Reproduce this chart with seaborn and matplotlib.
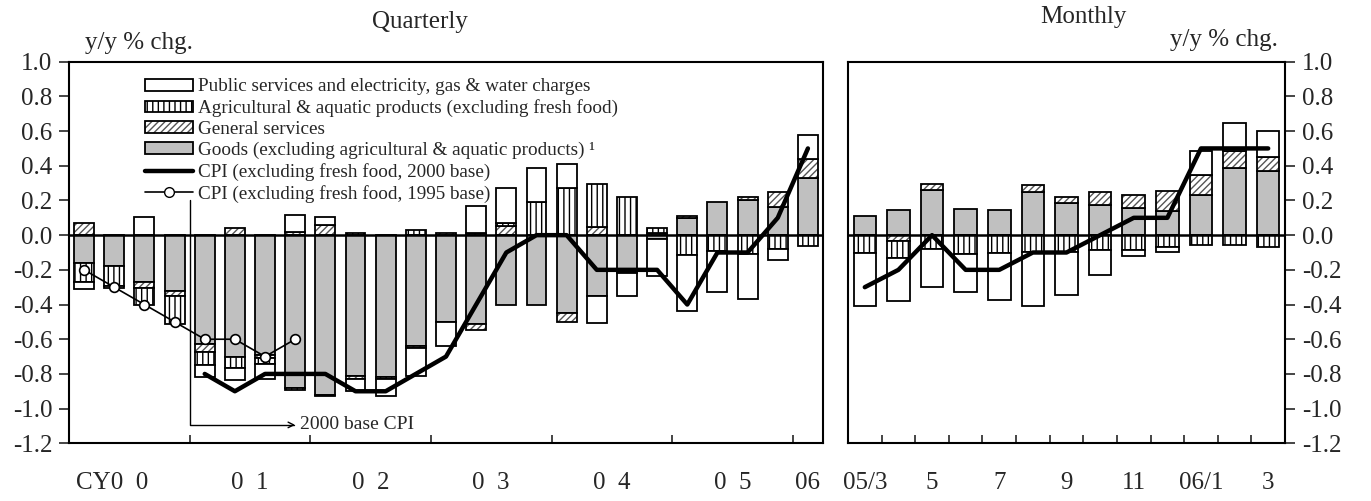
import numpy as np
import seaborn as sns
import matplotlib.pyplot as plt
from matplotlib.patches import Patch
from matplotlib.lines import Line2D
from matplotlib.ticker import FormatStrFormatter
from matplotlib.transforms import ScaledTranslation

# quarterly contributions, 2000Q1 .. 2006Q1
quarters = [f"{y}Q{q}" for y in range(2000, 2006) for q in range(1, 5)] + ["2006Q1"]
goods_q = [-0.16, -0.18, -0.27, -0.32, -0.63, -0.70, -0.69, -0.88, -0.92, -0.81, -0.82, -0.64, -0.50,
           -0.51, -0.40, -0.40, -0.45, -0.35, -0.20, -0.02, 0.10, 0.19, 0.20, 0.16, 0.33]
gen_q = [0.07, 0.0, -0.035, -0.03, -0.045, 0.04, -0.02, 0.02, 0.06, -0.02, 0.0, -0.01, 0.01,
         -0.035, 0.055, 0.0, -0.05, 0.045, -0.02, 0.01, 0.01, 0.0, 0.02, 0.09, 0.11]
agri_q = [-0.11, -0.115, -0.10, -0.165, -0.075, -0.065, -0.03, -0.01, -0.01, 0.01, -0.01, 0.03, 0.0,
          0.01, 0.015, 0.19, 0.27, 0.25, 0.22, 0.03, -0.115, -0.09, -0.11, -0.08, -0.06]
public_q = [-0.04, -0.01, 0.105, 0.0, -0.07, -0.07, -0.09, 0.095, 0.045, -0.07, -0.10, -0.16, -0.14,
            0.16, 0.20, 0.20, 0.14, -0.155, -0.13, -0.215, -0.32, -0.24, -0.26, -0.065, 0.14]
cpi2000_q = [-0.8, -0.9, -0.8, -0.8, -0.8, -0.9, -0.9, -0.8, -0.7, -0.4, -0.1, 0.0, 0.0,
             -0.2, -0.2, -0.2, -0.4, -0.1, -0.1, 0.1, 0.5]   # from 2001Q1
cpi1995_q = [-0.2, -0.3, -0.4, -0.5, -0.6, -0.6, -0.7, -0.6]  # 2000Q1 .. 2001Q4
year_labels = ["CY0  0", "0  1", "0  2", "0  3", "0  4", "0  5", "06"]

# monthly contributions, 2005/3 .. 2006/3
months = ["05/3", "05/4", "05/5", "05/6", "05/7", "05/8", "05/9", "05/10", "05/11", "05/12",
          "06/1", "06/2", "06/3"]
goods_m = [0.11, 0.145, 0.26, 0.15, 0.146, 0.25, 0.183, 0.173, 0.154, 0.14, 0.229, 0.39, 0.371]
gen_m = [0.0, -0.033, 0.035, 0.0, 0.0, 0.037, 0.037, 0.077, 0.075, 0.115, 0.115, 0.096, 0.08]
agri_m = [-0.10, -0.10, -0.08, -0.11, -0.105, -0.096, -0.096, -0.087, -0.083, -0.07, -0.058, -0.058, -0.067]
public_m = [-0.31, -0.245, -0.22, -0.22, -0.27, -0.31, -0.25, -0.14, -0.04, -0.025, 0.14, 0.16, 0.148]
cpi_m = [-0.3, -0.2, 0.0, -0.2, -0.2, -0.1, -0.1, 0.0, 0.1, 0.1, 0.5, 0.5, 0.5]
month_labels = ["05/3", "5", "7", "9", "11", "06/1", "3"]

sns.set_style("ticks")
plt.rcParams["font.family"] = ["Liberation Serif", "DejaVu Serif"]
plt.rcParams["hatch.linewidth"] = 1.0

GREY = "#c0c0c0"
EDGE = 1.3
styles = [
    dict(facecolor=GREY, lw=0),
    dict(facecolor="white", hatch="/////", edgecolor="#555555", lw=0),
    dict(facecolor="white", hatch="|||", edgecolor="black", lw=0),
    dict(facecolor="white", lw=0),
]


def stacked(ax, series, width):
    x = np.arange(len(series[0]))
    pos = np.zeros(len(x))
    neg = np.zeros(len(x))
    for vals, st in zip(series, styles):
        vals = np.asarray(vals, dtype=float)
        bottom = np.where(vals >= 0, pos, neg)
        m = vals != 0
        ax.bar(x[m], vals[m], width, bottom=bottom[m], zorder=2, **st)
        ax.bar(x[m], vals[m], width, bottom=bottom[m], fill=False, edgecolor="black", lw=EDGE, zorder=2)
        pos += np.clip(vals, 0, None)
        neg += np.clip(vals, None, 0)


fig = plt.figure(figsize=(13.71, 5.01), dpi=100)
W, H = 1371, 501
bot, top = 443.3, 61.7
ax1 = fig.add_axes([69 / W, (H - bot) / H, 754 / W, (bot - top) / H])
ax2 = fig.add_axes([848 / W, (H - bot) / H, 437 / W, (bot - top) / H])

stacked(ax1, [goods_q, gen_q, agri_q, public_q], 0.66)
stacked(ax2, [goods_m, gen_m, agri_m, public_m], 0.67)

xq = np.arange(len(quarters))
sns.lineplot(x=xq[4:], y=cpi2000_q, color="black", lw=3.2, ax=ax1, zorder=4)
sns.lineplot(x=xq[:len(cpi1995_q)], y=cpi1995_q, color="black", lw=1.2, marker="o", markersize=7,
             markerfacecolor="white", markeredgecolor="black", markeredgewidth=1.2, ax=ax1, zorder=5)
xm = np.arange(len(months))
sns.lineplot(x=xm, y=cpi_m, color="black", lw=3.2, ax=ax2, zorder=4)

yt = np.round(np.arange(-1.2, 1.01, 0.2), 1) + 0.0
for ax, n in ((ax1, len(quarters)), (ax2, len(months))):
    ax.axhline(0, color="black", lw=1.8, zorder=3)
    ax.set_xlim(-0.5, n - 0.5)
    ax.set_ylim(-1.2, 1.0)
    ax.set_yticks(yt)
    ax.yaxis.set_major_formatter(FormatStrFormatter("%.1f"))
    for s in ax.spines.values():
        s.set_visible(True)
        s.set_linewidth(1.5)
        s.set_color("black")
    ax.tick_params(axis="x", which="major", direction="in", length=6, width=1.2, labelbottom=False)
    ax.tick_params(axis="x", which="minor", length=0, labelsize=18, pad=21)
    ax.tick_params(axis="y", direction="out", length=7, width=1.2, labelsize=18, pad=5)
    ax.set_xlabel("")
    ax.set_ylabel("")

ax1.set_xticks(np.arange(3.5, len(quarters) - 1, 4))
ax1.set_xticks([1.5, 5.5, 9.5, 13.5, 17.5, 21.5, 24], minor=True)
ax1.set_xticklabels(year_labels, minor=True)
first = ax1.get_xticklabels(minor=True)[0]
first.set_transform(first.get_transform() + ScaledTranslation(-0.175, 0, fig.dpi_scale_trans))

ax2.set_xticks(np.arange(0.5, len(months) - 1, 1))
ax2.set_xticks(np.arange(0, len(months), 2), minor=True)
ax2.set_xticklabels(month_labels, minor=True)
ax2.tick_params(axis="y", left=False, right=True, labelleft=False, labelright=True)

# 2000 base CPI marker
ax1.annotate("", xy=(7.0, -1.094), xytext=(3.5, 0.2),
             arrowprops=dict(arrowstyle="->", lw=1.0, color="black", shrinkA=0, shrinkB=0,
                             connectionstyle="angle,angleA=90,angleB=0,rad=0"))
ax1.text(7.15, -1.094, "2000 base CPI", fontsize=14, va="center", ha="left")

handles = [
    Patch(facecolor="white", edgecolor="black", lw=EDGE),
    Patch(facecolor="white", edgecolor="black", hatch="|||", lw=EDGE),
    (Patch(facecolor="white", edgecolor="#555555", hatch="/////", lw=0),
     Patch(fill=False, edgecolor="black", lw=EDGE)),
    Patch(facecolor=GREY, edgecolor="black", lw=EDGE),
    Line2D([], [], color="black", lw=3.2),
    Line2D([], [], color="black", lw=1.2, marker="o", markersize=7, markerfacecolor="white"),
]
labels = [
    "Public services and electricity, gas & water charges",
    "Agricultural & aquatic products (excluding fresh food)",
    "General services",
    "Goods (excluding agricultural & aquatic products) \u00b9",
    "CPI (excluding fresh food, 2000 base)",
    "CPI (excluding fresh food, 1995 base)",
]
ax1.legend(handles, labels, loc="upper left", bbox_to_anchor=(0.1008, 0.956), frameon=False,
           fontsize=13.75, handlelength=2.5, handleheight=0.58, handletextpad=0.26,
           labelspacing=0.2, borderpad=0, borderaxespad=0)

fig.text(420 / W, 1 - 22 / H, "Quarterly", fontsize=18, ha="center", va="center")
fig.text(1083 / W, 1 - 17 / H, "Monthly", fontsize=18, ha="center", va="center")
fig.text(139 / W, 1 - 43 / H, "y/y % chg.", fontsize=18, ha="center", va="center")
fig.text(1224 / W, 1 - 40 / H, "y/y % chg.", fontsize=18, ha="center", va="center")

fig.savefig("out.png", dpi=100)
